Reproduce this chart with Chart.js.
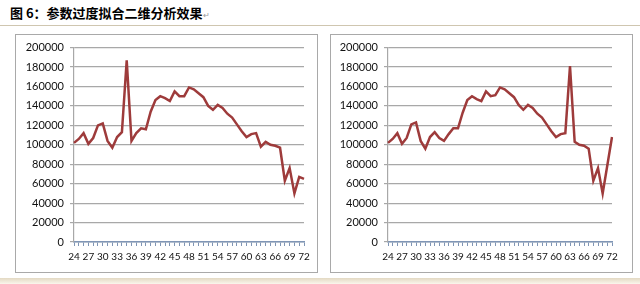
<!DOCTYPE html>
<html>
<head>
<meta charset="utf-8">
<script src="https://cdn.jsdelivr.net/npm/chart.js@4"></script>
<style>
  body { margin: 0; background: #fff; width: 640px; height: 284px; overflow: hidden; position: relative; font-family: "Noto Sans CJK SC", sans-serif; }
  #title { position: absolute; left: 10px; top: 3px; font-size: 13px; font-weight: bold; color: #000; white-space: nowrap; }
  #title span { font-weight: normal; font-size: 8px; color: #999; }
  #rule { position: absolute; left: 0; top: 25px; width: 640px; height: 1px; background: #cfc6b0; }
  #band { position: absolute; left: 0; top: 278px; width: 640px; height: 6px; background: linear-gradient(#e3d9c3, #faf6ec); }
  .box { position: absolute; top: 34px; width: 301px; height: 237px; border: 1px solid #a9a9a9; background: #fff; }
  .box canvas { display: block; }
</style>
</head>
<body>
<div id="title">图 6：参数过度拟合二维分析效果<span>↵</span></div>
<div id="rule"></div>
<div class="box" style="left:15px"><canvas id="leftChart" width="301" height="237"></canvas></div>
<div class="box" style="left:330px"><canvas id="rightChart" width="301" height="237"></canvas></div>
<div id="band"></div>
<script>
const labels = ['24','25','26','27','28','29','30','31','32','33','34','35','36','37','38','39','40',
    '41','42','43','44','45','46','47','48','49','50','51','52','53','54','55','56','57','58','59','60',
    '61','62','63','64','65','66','67','68','69','70','71','72'];

// left panel: spike around 35
const leftValues = [102000, 106000, 112000, 101000, 107000, 120000, 122000, 104000, 97000, 108000,
    113000, 187000, 104000, 112000, 117000, 116000, 134000, 146000, 150000, 148000,
    145000, 155000, 150000, 150000, 159000, 157000, 153000, 149000, 140000, 136000,
    141000, 138000, 132000, 128000, 121000, 114000, 108000, 111000, 112000, 98000,
    103000, 100000, 99000, 97000, 63000, 76000, 50000, 67000, 65000];

// right panel: spike moved to 63
const rightValues = [102000, 106000, 112000, 101000, 107000, 121000, 123000, 104000, 96000, 108000,
    113000, 107000, 104000, 111000, 117000, 117000, 133000, 146000, 150000, 147000,
    145000, 155000, 150000, 151000, 159000, 157000, 153000, 149000, 141000, 136000,
    141000, 138000, 132000, 128000, 121000, 114000, 108000, 111000, 112000, 181000,
    103000, 100000, 99000, 96000, 63000, 76000, 50000, 79000, 108000];

const yTicks = [0, 20000, 40000, 60000, 80000, 100000, 120000, 140000, 160000, 180000, 200000];

function renderChart(canvasId, data, yWidth, rightPad) {
    const ctx = document.getElementById(canvasId).getContext('2d');
    new Chart(ctx, {
        type: 'line',
        data: {
            labels: labels,
            datasets: [{
                data: data,
                borderColor: '#9e3b3b',
                borderWidth: 2.5,
                pointRadius: 0,
                tension: 0,
                fill: false
            }]
        },
        options: {
            responsive: false,
            animation: false,
            layout: { padding: { top: 12, right: rightPad, left: 0, bottom: 0 } },
            plugins: {
                legend: { display: false },
                tooltip: { enabled: false }
            },
            scales: {
                x: {
                    type: 'category',
                    offset: false,
                    afterFit: function(scale) { scale.height = 30; },
                    grid: {
                        drawOnChartArea: false,
                        drawTicks: true,
                        tickLength: 4,
                        color: '#7f95b5'
                    },
                    border: { display: true, color: '#7f95b5', width: 1.5 },
                    ticks: {
                        autoSkip: false,
                        maxRotation: 0,
                        minRotation: 0,
                        padding: 5,
                        color: '#111',
                        font: { family: 'Lato', size: 10 },
                        callback: function(value, index) {
                            return index % 3 === 0 ? labels[index] : '';
                        }
                    }
                },
                y: {
                    min: 0,
                    max: 200000,
                    afterFit: function(scale) { scale.width = yWidth; },
                    afterBuildTicks: function(scale) {
                        scale.ticks = yTicks.map(v => ({ value: v }));
                    },
                    grid: {
                        color: '#a8a8a8',
                        lineWidth: 1.2,
                        tickLength: 4
                    },
                    border: { display: true, color: '#a8a8a8', width: 1.2 },
                    ticks: {
                        padding: 6,
                        color: '#111',
                        font: { family: 'Lato', size: 11 },
                        callback: function(value) { return String(value); }
                    }
                }
            }
        }
    });
}

renderChart('leftChart', leftValues, 58, 13);
renderChart('rightChart', rightValues, 57, 20);
</script>
</body>
</html>
